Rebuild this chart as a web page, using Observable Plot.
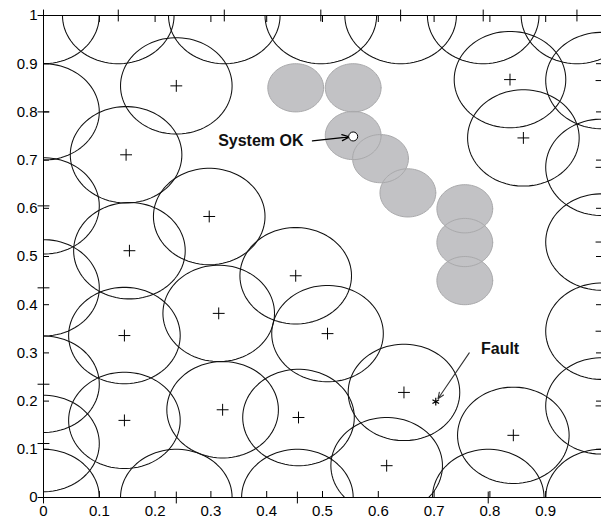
<!DOCTYPE html>
<html><head><meta charset="utf-8">
<script src="https://cdn.jsdelivr.net/npm/d3@7"></script>
<script src="https://cdn.jsdelivr.net/npm/@observablehq/plot@0.6"></script>
<style>body{margin:0;background:#fff} svg{display:block}</style>
</head><body><div id="chart"></div>
<script>
// Detector centres (radius 0.1)
const detectorX = [0.238,0.148,0.297,0.154,0.452,0.314,0.145,0.509,0.145,0.321,0.457,0.646,0.615,0.842,0.836,0.860,
  0.000,0.134,0.324,0.497,0.640,0.788,0.956,
  0.238,0.455,0.797,0.000,1.000,
  0.000,0.000,0.000,0.000,0.000,
  1.000,1.000,1.000,1.000,1.000];
const detectorY = [0.854,0.711,0.583,0.512,0.460,0.382,0.336,0.340,0.160,0.182,0.166,0.218,0.066,0.129,0.867,0.746,
  1.000,1.000,1.000,1.000,1.000,1.000,1.000,
  0.000,0.000,0.000,0.000,0.000,
  0.800,0.605,0.435,0.235,0.112,
  0.865,0.685,0.530,0.345,0.190];
// Self (normal) region samples (radius 0.05)
const selfX = [0.452,0.555,0.555,0.604,0.653,0.755,0.755,0.755];
const selfY = [0.850,0.850,0.751,0.703,0.632,0.599,0.529,0.450];
const detectorRadius = 0.1;
const selfRadius = 0.05;
const okX = [0.555], okY = [0.749];
const faultX = [0.703], faultY = [0.199];
const ticks = [0,0.1,0.2,0.3,0.4,0.5,0.6,0.7,0.8,0.9,1];
const xLabelTicks = [0,0.1,0.2,0.3,0.4,0.5,0.6,0.7,0.8,0.9];

function outline(cx, cy, r, id) {
  return d3.range(0, 361, 4).map(a => ({id, x: cx + r*Math.cos(a*Math.PI/180), y: cy + r*Math.sin(a*Math.PI/180)}));
}
const detectors = detectorX.map((x,i)=>({x, y: detectorY[i]}));
const detectorRings = detectors.flatMap((d,i)=>outline(d.x, d.y, detectorRadius, i));
const selfRings = selfX.flatMap((x,i)=>outline(x, selfY[i], selfRadius, i));
const fmt = d => String(+d.toFixed(1));

const chart = Plot.plot({
  width: 601, height: 525,
  marginLeft: 43, marginRight: 0, marginTop: 15, marginBottom: 28,
  style: {fontFamily: "'Liberation Sans', Arial, sans-serif", fontSize: "15px", color: "#000", background: "#fff"},
  x: {domain: [0,1], axis: null},
  y: {domain: [0,1], axis: null},
  marks: [
    Plot.line(detectorRings, {x:"x", y:"y", z:"id", stroke:"#111", strokeWidth:1.05, clip:true}),
    Plot.line(selfRings, {x:"x", y:"y", z:"id", fill:"#c2c2c5", stroke:"none", clip:true}),
    Plot.line(selfRings, {x:"x", y:"y", z:"id", stroke:"#a9a9ab", strokeWidth:1, clip:true}),
    Plot.dot(detectors, {x:"x", y:"y", symbol:"plus", r:3.9, stroke:"#000", strokeWidth:1}),
    Plot.dot(faultX.map((x,i)=>({x, y:faultY[i]})), {x:"x", y:"y", symbol:"asterisk", r:3.6, stroke:"#000", strokeWidth:1.2}),
    Plot.arrow([{x1:0.482,y1:0.740,x2:0.548,y2:0.748}], {x1:"x1",y1:"y1",x2:"x2",y2:"y2", stroke:"#000", strokeWidth:1.3, headLength:9, headAngle:45}),
    Plot.arrow([{x1:0.763,y1:0.300,x2:0.707,y2:0.205}], {x1:"x1",y1:"y1",x2:"x2",y2:"y2", stroke:"#333", strokeWidth:1.1, headLength:9, headAngle:45}),
    Plot.dot(okX.map((x,i)=>({x, y:okY[i]})), {x:"x", y:"y", r:4.5, fill:"#fff", stroke:"#000", strokeWidth:1}),
    Plot.text([{x:0.466, y:0.740, t:"System OK"}], {x:"x", y:"y", text:"t", textAnchor:"end", fontWeight:"bold", fontSize:16, fill:"#111"}),
    Plot.text([{x:0.784, y:0.309, t:"Fault"}], {x:"x", y:"y", text:"t", textAnchor:"start", fontWeight:"bold", fontSize:16, fill:"#111"}),
    Plot.ruleY([0,1], {stroke:"#000", strokeWidth:1}),
    Plot.ruleX([0], {stroke:"#000", strokeWidth:1}),
    Plot.axisY(ticks, {anchor:"left", tickSize:-6, tickPadding:12, tickFormat: fmt, fontSize:15}),
    Plot.axisY(ticks, {anchor:"right", tickSize:-6, tickFormat: () => ""}),
    Plot.axisX(ticks, {anchor:"bottom", tickSize:-6, tickFormat: () => ""}),
    Plot.axisX(xLabelTicks, {anchor:"bottom", tickSize:0, tickPadding:8, tickFormat: fmt, fontSize:15}),
    Plot.axisX(ticks, {anchor:"top", tickSize:-6, tickFormat: () => ""})
  ]
});
document.getElementById("chart").append(chart);
</script></body></html>
